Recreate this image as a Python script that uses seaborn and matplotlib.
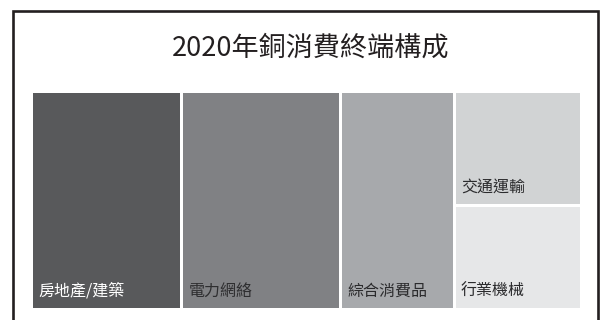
import matplotlib
matplotlib.use("Agg")
import matplotlib.pyplot as plt
from matplotlib.patches import Rectangle
import seaborn as sns

# data: share of 2020 copper end use (%), read from tile areas
categories = ["房地產/建築", "電力網絡", "綜合消費品", "交通運輸", "行業機械"]
shares = [27.3, 28.9, 20.7, 12.1, 11.0]
tile_colors = ["#58595b", "#808184", "#a7a9ac", "#d1d3d4", "#e6e7e8"]
label_colors = ["#ffffff", "#2e2e30", "#2b2b2d", "#2b2b2d", "#2b2b2d"]
title = "2020年銅消費終端構成"

sns.set_theme(style="white")
plt.rcParams["font.family"] = ["Noto Sans CJK TC", "DejaVu Sans"]

W, H = 603, 320
fig = plt.figure(figsize=(W / 100, H / 100), dpi=100)
fig.patch.set_facecolor("white")

# tile area in pixels (left, top, right, bottom), widened by half the gap
left, top, right, bottom = 31.3, 90.5, 581.0, 309.0
ax = fig.add_axes([left / W, 1 - bottom / H, (right - left) / W, (bottom - top) / H])

total = sum(shares)
gap_lw = 3 * 72 / 100  # 3 px white gutters

# first three categories are full-height columns
x0 = 0
for i in range(3):
    ax.bar(x0, 1, width=shares[i], bottom=0, align="edge",
           color=tile_colors[i], edgecolor="white", linewidth=gap_lw)
    ax.annotate(categories[i], xy=(x0, 1), xytext=(7, 9), textcoords="offset pixels",
                ha="left", va="bottom", fontsize=11.5, color=label_colors[i])
    x0 += shares[i]

# last two stacked in the remaining column
col_w = shares[3] + shares[4]
y0 = 0
for i in (3, 4):
    h = shares[i] / col_w
    ax.bar(x0, h, width=col_w, bottom=y0, align="edge",
           color=tile_colors[i], edgecolor="white", linewidth=gap_lw)
    ax.annotate(categories[i], xy=(x0, y0 + h), xytext=(7, 9), textcoords="offset pixels",
                ha="left", va="bottom", fontsize=11.5, color=label_colors[i])
    y0 += h

ax.set_xlim(0, total)
ax.set_ylim(1, 0)
ax.axis("off")

fig.text(311 / W, 1 - 48 / H, title, ha="center", va="center",
         fontsize=19.5, color="#231f20")

# outer frame (open at the bottom edge of the picture)
fig.patches.append(Rectangle((12.5 / W, -0.05), (598 - 12.5) / W, 1.05 - 11 / H,
                             transform=fig.transFigure, fill=False,
                             edgecolor="#231f20", linewidth=1.9))

fig.savefig("out.png", dpi=100)
